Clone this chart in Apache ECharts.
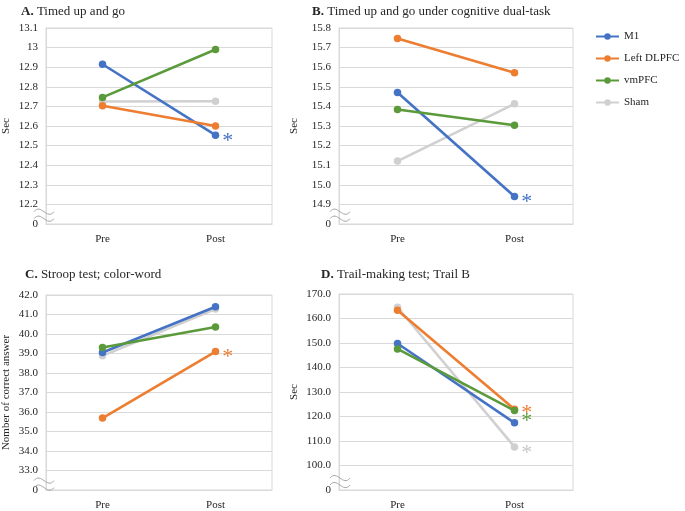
<!DOCTYPE html>
<html>
<head>
<meta charset="utf-8">
<script src="https://cdn.jsdelivr.net/npm/echarts@6/dist/echarts.min.js"></script>
<style>html,body{margin:0;padding:0;background:#fff}#c{width:685px;height:511px}</style>
</head>
<body>
<div id="c"></div>
<script>
// ---- data ----
const categories = ['Pre', 'Post'];
const seriesNames = ['M1', 'Left DLPFC', 'vmPFC', 'Sham'];

// A. Timed up and go (sec)
const A_M1 = [12.915, 12.553];
const A_DLPFC = [12.703, 12.600];
const A_vmPFC = [12.746, 12.990];
const A_Sham = [12.725, 12.726];
const A_range = [12.1, 13.1, 0.1];
const A_sig = ['M1'];

// B. Timed up and go under cognitive dual-task (sec)
const B_M1 = [15.471, 14.940];
const B_DLPFC = [15.747, 15.572];
const B_vmPFC = [15.384, 15.304];
const B_Sham = [15.121, 15.413];
const B_range = [14.8, 15.8, 0.1];
const B_sig = ['M1'];

// C. Stroop test; color-word (number of correct answers)
const C_M1 = [39.05, 41.40];
const C_DLPFC = [35.69, 39.10];
const C_vmPFC = [39.31, 40.36];
const C_Sham = [38.88, 41.28];
const C_range = [32, 42, 1];
const C_sig = ['Left DLPFC'];

// D. Trail-making test; Trail B (sec)
const D_M1 = [149.8, 117.4];
const D_DLPFC = [163.4, 123.0];
const D_vmPFC = [147.6, 122.4];
const D_Sham = [164.6, 107.6];
const D_range = [90, 170, 10];
const D_sig = ['Left DLPFC', 'vmPFC', 'Sham'];

// ---- styles ----
const colors = { 'M1': '#4472C4', 'Left DLPFC': '#ED7D31', 'vmPFC': '#5B9A3B', 'Sham': '#D0D0D0' };
const starColors = { 'M1': '#4472C4', 'Left DLPFC': '#ED7D31', 'vmPFC': '#5B9A3B', 'Sham': '#C8C8C8' };
const serif = 'Liberation Serif';
const textColor = '#262626';
const gridColor = '#D9D9D9';

const trim = v => String(+v.toFixed(1));
const fixed1 = v => v.toFixed(1);

const panels = [
  { letter: 'A.', title: 'Timed up and go', grid: { left: 43, top: 28, width: 229, height: 196 },
    titlePos: { left: 16, top: 0 }, data: [A_M1, A_DLPFC, A_vmPFC, A_Sham], range: A_range, sig: A_sig,
    fmt: trim, yName: 'Sec', nameGap: 34, starOffsets: {} },
  { letter: 'B.', title: 'Timed up and go under cognitive dual-task', grid: { left: 339, top: 28, width: 234, height: 196 },
    titlePos: { left: 307, top: 0 }, data: [B_M1, B_DLPFC, B_vmPFC, B_Sham], range: B_range, sig: B_sig,
    fmt: fixed1, yName: 'Sec', nameGap: 39, starOffsets: {} },
  { letter: 'C.', title: 'Stroop test; color-word', grid: { left: 43, top: 295, width: 229, height: 198 },
    titlePos: { left: 20, top: 263 }, data: [C_M1, C_DLPFC, C_vmPFC, C_Sham], range: C_range, sig: C_sig,
    fmt: fixed1, yName: 'Nomber of correct answer', nameGap: 34, starOffsets: {} },
  { letter: 'D.', title: 'Trail-making test; Trail B', grid: { left: 339, top: 294, width: 234, height: 199 },
    titlePos: { left: 316, top: 263 }, data: [D_M1, D_DLPFC, D_vmPFC, D_Sham], range: D_range, sig: D_sig,
    fmt: fixed1, yName: 'Sec', nameGap: 39, starOffsets: { 'Left DLPFC': [0, -2], 'vmPFC': [0, 5] } }
];

const option = {
  animation: false,
  backgroundColor: '#fff',
  title: [], grid: [], xAxis: [], yAxis: [], series: [], graphic: [],
  legend: {
    data: seriesNames, orient: 'vertical', left: 590, top: 26, itemGap: 11,
    itemWidth: 23, itemHeight: 8,
    textStyle: { fontFamily: serif, fontSize: 11, color: textColor }
  }
};

panels.forEach((p, i) => {
  option.title.push({
    text: '{b|' + p.letter + '} ' + p.title,
    left: p.titlePos.left, top: p.titlePos.top,
    textStyle: { fontFamily: serif, fontSize: 13, fontWeight: 'normal', color: textColor,
      rich: { b: { fontFamily: serif, fontSize: 13, fontWeight: 'bold', color: textColor } } }
  });
  option.grid.push(Object.assign({ show: true, borderColor: gridColor, borderWidth: 1 }, p.grid));
  option.xAxis.push({
    type: 'category', gridIndex: i, data: categories, boundaryGap: true,
    axisTick: { show: false },
    axisLine: { show: true, lineStyle: { color: gridColor, width: 1 } },
    axisLabel: { fontFamily: serif, fontSize: 11, color: textColor, margin: 10 },
    splitLine: { show: false }
  });
  const r = p.range;
  option.yAxis.push({
    type: 'value', gridIndex: i, min: r[0], max: r[1], interval: r[2],
    name: p.yName, nameLocation: 'middle', nameGap: p.nameGap,
    nameTextStyle: { fontFamily: serif, fontSize: 11, color: textColor },
    axisLine: { show: true, lineStyle: { color: gridColor, width: 1 } },
    axisTick: { show: false },
    splitLine: { show: true, lineStyle: { color: gridColor, width: 1 } },
    axisLabel: { fontFamily: serif, fontSize: 11, color: textColor, margin: 8,
      formatter: v => Math.abs(v - r[0]) < r[2] / 100 ? '0' : p.fmt(v) }
  });
  seriesNames.forEach((name, k) => {
    const vals = p.data[k];
    const data = vals.map((v, j) => {
      if (j === 1 && p.sig.indexOf(name) >= 0) {
        const off = p.starOffsets[name] || [0, 0];
        return { value: v, label: { show: true, formatter: '*', position: 'right', distance: 3,
          color: starColors[name], fontFamily: serif, fontSize: 22, offset: [off[0], off[1] + 6] } };
      }
      return v;
    });
    option.series.push({
      type: 'line', name: name, xAxisIndex: i, yAxisIndex: i, data: data,
      symbol: 'circle', symbolSize: 7.5, z: name === 'Sham' ? 1 : 2 + k,
      itemStyle: { color: colors[name] },
      lineStyle: { color: colors[name], width: 2.6 },
      label: { show: false }
    });
  });
  // axis break squiggle drawn between the "0" tick and the next tick
  const g = p.grid;
  const step = g.height / Math.round((r[1] - r[0]) / r[2]);
  const cx = g.left + 1, cy = g.top + g.height - step / 2 + 1;
  [-3.5, 3.5].forEach(dy => {
    option.graphic.push({
      type: 'bezierCurve', silent: true, z: 100,
      shape: { x1: cx - 10, y1: cy + dy, x2: cx + 10, y2: cy + dy,
        cpx1: cx - 3, cpy1: cy + dy - 9, cpx2: cx + 3, cpy2: cy + dy + 9 },
      style: { stroke: '#A6A6A6', lineWidth: 1, fill: null }
    });
  });
});

const chart = echarts.init(document.getElementById('c'), null, { renderer: 'canvas' });
chart.setOption(option);
</script>
</body>
</html>
